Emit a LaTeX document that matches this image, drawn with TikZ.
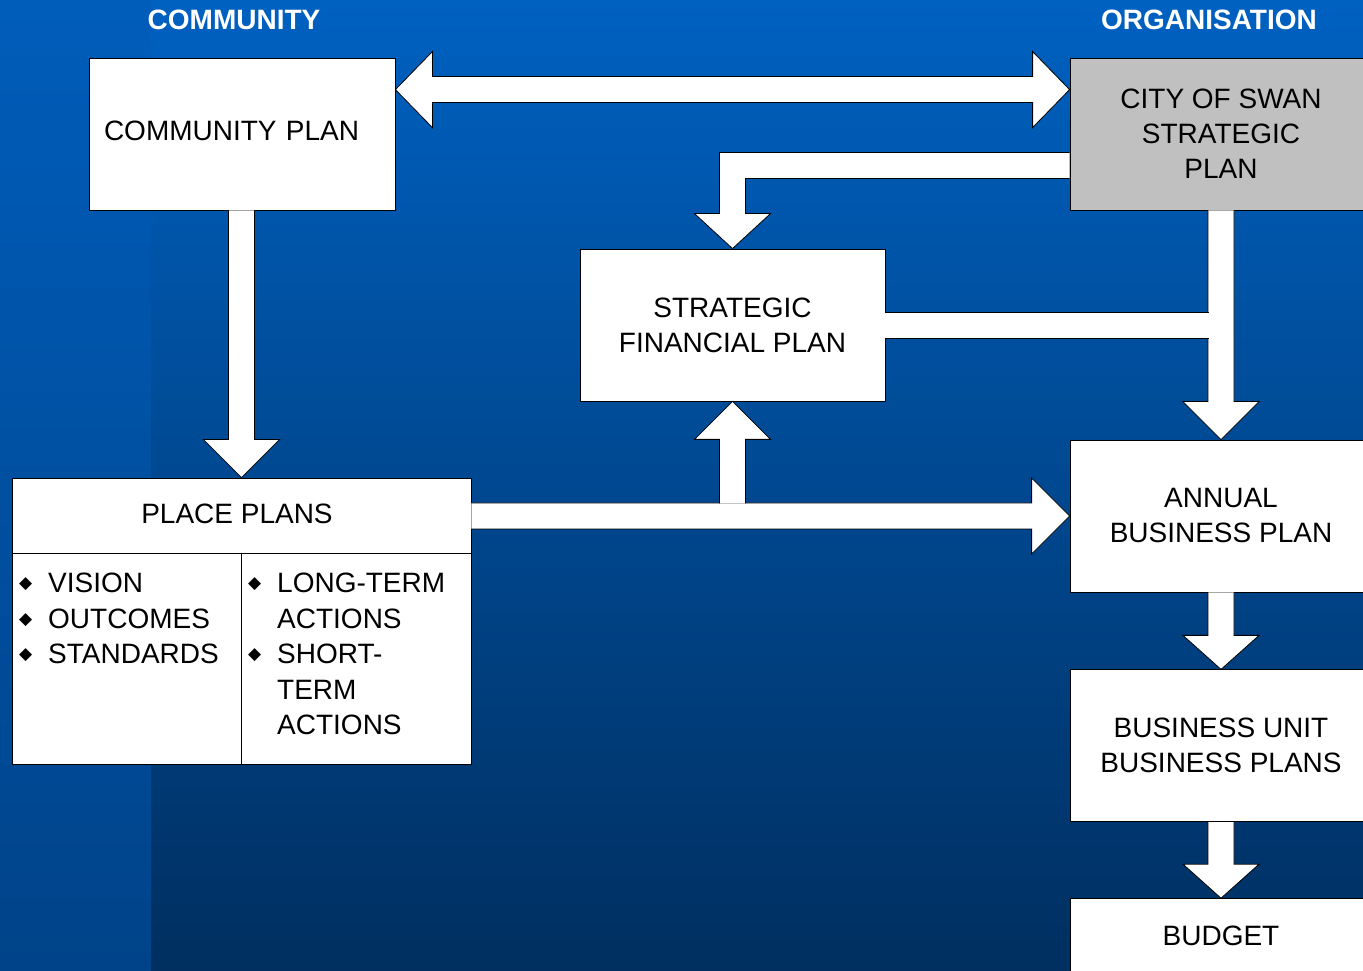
\documentclass[tikz,border=0pt]{standalone}
\usepackage{fontspec}
\setmainfont{Liberation Sans}
\newfontfamily\bulletfont{DejaVu Sans}
\usetikzlibrary{calc,positioning}

\definecolor{topblue}{RGB}{0,97,193}
\definecolor{bottomblue}{RGB}{0,47,96}
\definecolor{striptop}{RGB}{0,93,186}
\definecolor{stripbottom}{RGB}{0,67,137}
\definecolor{plangray}{RGB}{192,192,192}

\newcommand{\bul}{\makebox[29pt][l]{\bulletfont\fontsize{17}{17}\selectfont\raisebox{4pt}{◆}}}

\newcommand{\fatdown}[3][38pt]{%
\filldraw[fatarrow] let \p1=(#2), \p2=(#3) in
(\x2-13pt,\y1) -- (\x2-13pt,\y2+#1) -- (\x2-38pt,\y2+#1) -- (\p2) -- (\x2+38pt,\y2+#1) -- (\x2+13pt,\y2+#1) -- (\x2+13pt,\y1);}

\newcommand{\fatup}[3][38pt]{%
\filldraw[fatarrow] let \p1=(#2), \p2=(#3) in
(\x2-13pt,\y1) -- (\x2-13pt,\y2-#1) -- (\x2-38pt,\y2-#1) -- (\p2) -- (\x2+38pt,\y2-#1) -- (\x2+13pt,\y2-#1) -- (\x2+13pt,\y1);}

\newcommand{\fatright}[3][38pt]{%
\filldraw[fatarrow] let \p1=(#2), \p2=(#3) in
(\x1,\y2+13pt) -- (\x2-#1,\y2+13pt) -- (\x2-#1,\y2+38pt) -- (\p2) -- (\x2-#1,\y2-38pt) -- (\x2-#1,\y2-13pt) -- (\x1,\y2-13pt);}

\newcommand{\fatboth}[2]{%
\filldraw[fatarrow] let \p1=(#1), \p2=(#2) in
(\p1) -- (\x1+37pt,\y1+38pt) -- (\x1+37pt,\y1+13pt) -- (\x2-37pt,\y1+13pt) -- (\x2-37pt,\y1+38pt) -- (\x2,\y1)
-- (\x2-37pt,\y1-38pt) -- (\x2-37pt,\y1-13pt) -- (\x1+37pt,\y1-13pt) -- (\x1+37pt,\y1-38pt) -- cycle;}

\newcommand{\fatelbow}[2]{%
\filldraw[fatarrow] let \p1=(#1), \p2=(#2) in
(\x1,\y1+13pt) -- (\x2-13pt,\y1+13pt) -- (\x2-13pt,\y2+35pt) -- (\x2-38pt,\y2+35pt) -- (\p2)
-- (\x2+38pt,\y2+35pt) -- (\x2+13pt,\y2+35pt) -- (\x2+13pt,\y1-13pt) -- (\x1,\y1-13pt);}

\newcommand{\fatjoin}[2]{%
\fill[white] let \p1=(#1), \p2=(#2) in (\x1,\y1+13pt) rectangle (\x2-12.5pt,\y1-13pt);
\draw[fatline] let \p1=(#1), \p2=(#2) in (\x1,\y1+13pt) -- (\x2-12.5pt,\y1+13pt) (\x1,\y1-13pt) -- (\x2-12.5pt,\y1-13pt);}

\begin{document}
\begin{tikzpicture}[x=1pt,y=1pt,
  box/.style={draw=black,fill=white,line width=0.8pt,inner sep=0pt,minimum width=306pt,minimum height=152pt,align=center,font=\fontsize{28}{35}\selectfont},
  rightbox/.style={box,minimum width=302pt},
  heading/.style={text=white,inner sep=0pt,font=\fontsize{28}{34}\selectfont\bfseries},
  bullets/.style={inner sep=0pt,anchor=base west,text width=215pt,align=left,font=\fontsize{28}{35.5}\selectfont},
  fatarrow/.style={draw=black,fill=white,line width=0.8pt,line join=miter},
  fatline/.style={draw=black,line width=0.8pt}]

\useasboundingbox (0,0) rectangle (1363,970);
\shade[top color=topblue,bottom color=bottomblue] (0,0) rectangle (1363,970);
\shade[top color=striptop,bottom color=stripbottom] (0,0) rectangle (151,970);

\node[heading] (community) at (234,950) {COMMUNITY};
\node[heading] (organisation) at (1209,950) {ORGANISATION};

\node[box,text width=276pt,align=left,text depth=6pt] (cplan) at (242,836) {COMMUNITY PLAN};
\node[rightbox,fill=plangray] (citysp) at (1221,836) {CITY OF SWAN\\STRATEGIC\\PLAN};
\node[box,minimum width=305pt] (sfp) at (732.5,645) {STRATEGIC\\FINANCIAL PLAN};
\node[box,minimum width=459pt,minimum height=286pt] (pplans) at (241.5,349) {};
\node[rightbox] (abp) at (1221,454) {ANNUAL\\BUSINESS PLAN};
\node[rightbox,below=77pt of abp] (bup) {BUSINESS UNIT\\BUSINESS PLANS};
\node[rightbox,below=76pt of bup,minimum height=74pt] (budget) {BUDGET};

\draw[fatline] (pplans.west |- 0,417) -- (pplans.east |- 0,417);
\draw[fatline] (pplans.south |- 0,417) -- (pplans.south);
\node[inner sep=0pt,font=\fontsize{28}{35}\selectfont] (pptitle) at (237,456) {PLACE PLANS};
\node[bullets] (ppleft) at (19,377) {\bul VISION\\\bul OUTCOMES\\\bul STANDARDS};
\node[bullets] (ppright) at (248,377) {\bul LONG-TERM\\\hspace*{29pt}ACTIONS\\\bul SHORT-\\\hspace*{29pt}TERM\\\hspace*{29pt}ACTIONS};

\coordinate (commlink) at ($(cplan.north east)+(0,-32)$);
\coordinate (citylink) at ($(citysp.north west)+(0,-108)$);
\coordinate (branch) at ($(sfp.south |- abp.west)+(0,12.5)$);

\fatboth{commlink}{citysp.west |- commlink}
\fatelbow{citylink}{sfp.north}
\fatdown{cplan.south}{pplans.north}
\fatdown{citysp.south}{abp.north}
\fatjoin{sfp.east}{citysp.south}
\fatright{pplans.east |- abp.west}{abp.west}
\fatup{branch}{sfp.south}
\fatdown[34pt]{abp.south}{bup.north}
\fatdown[34pt]{bup.south}{budget.north}

\end{tikzpicture}
\end{document}
